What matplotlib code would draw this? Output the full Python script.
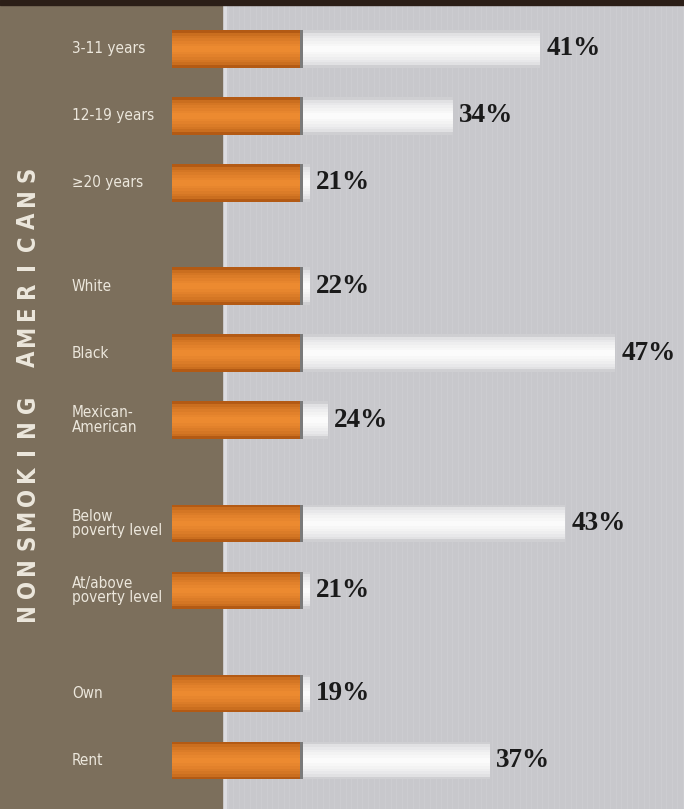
import matplotlib
matplotlib.use("Agg")
import matplotlib.pyplot as plt
import matplotlib.colors as mcolors
import numpy as np

# ---- data ----
categories = ["3-11 years", "12-19 years", "\u226520 years",
              "White", "Black", "Mexican-\nAmerican",
              "Below\npoverty level", "At/above\npoverty level",
              "Own", "Rent"]
groups = [0, 0, 0, 1, 1, 1, 2, 2, 3, 3]
values = [41, 34, 21, 22, 47, 24, 43, 21, 19, 37]
title = "NONSMOKING AMERICANS"

# ---- style / layout ----
W, H = 684, 809
BROWN = "#7c6f5c"
GRAY = "#c8c8cc"
LABEL_COL = "#ece7dc"

GROUP_GAP = 0.54
BAR_H = 0.56
FILTER_START, FILTER_END = 11.56, 21.8
PANEL_END = 15.56

fig = plt.figure(figsize=(W / 100, H / 100), dpi=100)
ax = fig.add_axes([0, 0, 1, 1])
ax.set_xlim(-2.2, 52.52)
ax.set_ylim(11.343, -0.731)
ax.axis("off")
fig.patch.set_facecolor(GRAY)

ypos = np.arange(len(categories)) + GROUP_GAP * np.array(groups)
vals = np.array(values, dtype=float)

# background
ax.axvspan(-2.2, 52.52, color=GRAY, zorder=0)
for xs in np.arange(16.0, 52.5, 0.45):
    ax.axvline(xs, color="#cdcdd1", lw=0.6, zorder=0.1)
ax.axvspan(PANEL_END, PANEL_END + 0.3, color="#dcdce0", zorder=0.2)
ax.axvspan(-2.2, PANEL_END, color=BROWN, zorder=2)
ax.axhspan(-0.731, -0.66, color="#2b1e17", zorder=5)


def shaded_bars(left, width, edge_col, mid_col, z, n=7):
    c0 = np.array(mcolors.to_rgb(edge_col))
    c1 = np.array(mcolors.to_rgb(mid_col))
    for k in range(n):
        t = k / (n - 1)
        col = c0 + (c1 - c0) * np.sqrt(t)
        h = BAR_H * (1 - 0.85 * t)
        ax.barh(ypos, width, left=left, height=h, color=col,
                edgecolor="none", zorder=z + k * 0.01)


# paper part of cigarettes
paper_end = np.maximum(vals, FILTER_END + 0.8)
shaded_bars(FILTER_END, paper_end - FILTER_END, "#cfcfd2", "#fbfbfb", 3)
ax.barh(ypos, 0.3, left=FILTER_END - 0.1, height=BAR_H,
        color="#7a7a7a", edgecolor="none", zorder=3.5)

# filters
shaded_bars(FILTER_START, FILTER_END - FILTER_START, "#b35a14", "#ec8a30", 4)

# value labels
for y, pe, v in zip(ypos, paper_end, values):
    ax.text(pe + 0.5, y, f"{v}%", ha="left", va="center",
            fontsize=19.5, fontweight="bold", color="#1a1a1a",
            family=["Liberation Serif", "DejaVu Serif"], zorder=6)

# category labels
for y, c in zip(ypos, categories):
    ax.text(3.56, y, c, ha="left", va="center", fontsize=11,
            color=LABEL_COL, linespacing=0.95, fontstretch="condensed",
            family=["DejaVu Sans"], zorder=6)

# vertical title, letter spaced
letters = list(title)
ys = np.linspace(8.4, 1.87, len(letters))
for ch, yy in zip(letters, ys):
    ax.text(0.0, yy, ch, rotation=90, ha="center", va="center",
            fontsize=17, fontweight="bold", color=LABEL_COL,
            fontstretch="condensed", family=["DejaVu Sans"], zorder=6)

fig.savefig("out.png", dpi=100)
